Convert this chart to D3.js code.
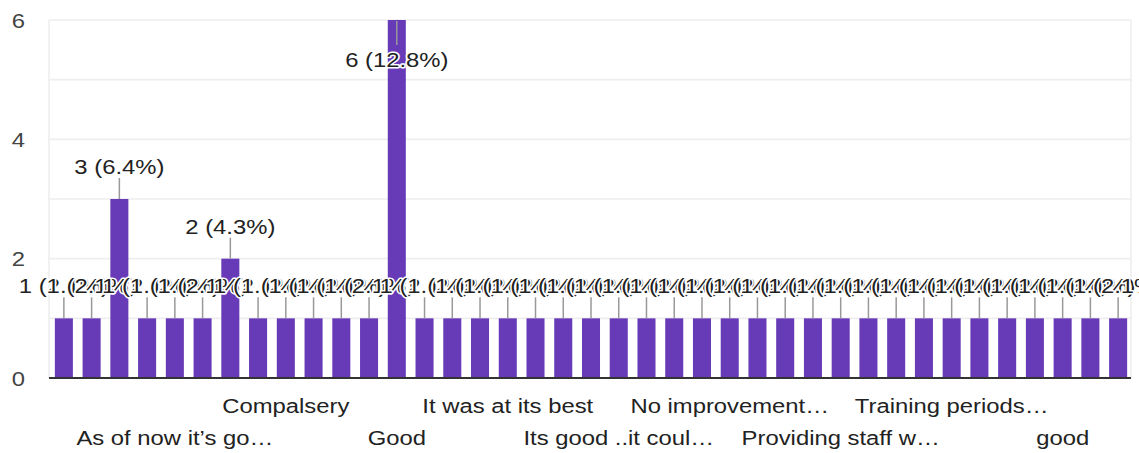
<!DOCTYPE html>
<html>
<head>
<meta charset="utf-8">
<script src="https://cdn.jsdelivr.net/npm/d3@7"></script>
<style>
  html, body { margin: 0; padding: 0; background: #fff; }
  svg { display: block; }
  text { font-family: "Liberation Sans", Arial, sans-serif; }
</style>
</head>
<body>
<svg id="chart" width="1139" height="453"></svg>
<script>
// ---- data ----
// Category labels: only those visible on the x axis are known; the rest are not shown in the reference.
const categories = [
  "", "", "", "", "As of now it’s go…", "", "", "",
  "Compalsery", "", "", "", "Good", "", "", "",
  "It was at its best", "", "", "", "Its good ..it coul…", "", "", "",
  "No improvement…", "", "", "", "Providing staff w…", "", "", "",
  "Training periods…", "", "", "", "good", "", ""
];
const values = [
  1, 1, 3, 1, 1, 1, 2, 1, 1, 1, 1, 1, 6, 1, 1, 1,
  1, 1, 1, 1, 1, 1, 1, 1, 1, 1, 1, 1, 1, 1, 1, 1,
  1, 1, 1, 1, 1, 1, 1
];
const yTicks = [0, 2, 4, 6];
const yMinorTicks = [1, 3, 5];
const shownLabelEvery = 4;

// ---- setup ----
const plotL = 49, plotR = 1131, plotT = 20, plotB = 378;
const FS = 21, SX = 1.135; // font size and horizontal stretch of the reference
const total = d3.sum(values);
const idx = d3.range(values.length);

const svg = d3.select("#chart");
const x = d3.scaleBand().domain(idx).range([50, 1132]).paddingInner(0.35).paddingOuter(0.175);
const y = d3.scaleLinear().domain([0, 6]).range([plotB, plotT]);

function stretchedText(g, tx, ty) {
  return g.attr("transform", `translate(${tx},${ty}) scale(${SX},1)`);
}

// gridlines
svg.append("g").selectAll("line")
  .data(yMinorTicks.concat(yTicks.filter(d => d !== 0)))
  .join("line")
  .attr("x1", plotL).attr("x2", plotR)
  .attr("y1", d => y(d)).attr("y2", d => y(d))
  .attr("stroke", "#eeeeee").attr("stroke-width", 1.6);
svg.append("line").attr("x1", plotL).attr("x2", plotL).attr("y1", plotT).attr("y2", plotB)
  .attr("stroke", "#eeeeee").attr("stroke-width", 1.6);
svg.append("line").attr("x1", plotR).attr("x2", plotR).attr("y1", plotT).attr("y2", plotB)
  .attr("stroke", "#eeeeee").attr("stroke-width", 1.6);

// y axis labels
svg.append("g").selectAll("text").data(yTicks).join("text")
  .each(function(d) { stretchedText(d3.select(this), 25, y(d) + 7.5); })
  .attr("text-anchor", "end")
  .attr("font-size", FS).attr("fill", "#444")
  .text(d => d);

// bars
svg.append("g").selectAll("rect").data(idx).join("rect")
  .attr("x", i => x(i)).attr("width", x.bandwidth())
  .attr("y", i => y(values[i])).attr("height", i => plotB - y(values[i]))
  .attr("fill", "#673ab7");

// baseline
svg.append("line").attr("x1", plotL).attr("x2", plotR).attr("y1", plotB).attr("y2", plotB)
  .attr("stroke", "#333").attr("stroke-width", 2);

// annotations: leader line + label
const stem = 21;
function annoPos(i) {
  const bt = y(values[i]);
  const above = bt - stem - 4 - 16 > 0;
  if (above) return { y1: bt, y2: bt - stem, base: bt - stem - 4 };
  return { y1: bt + 1, y2: bt + 25, base: bt + 47 };
}
const cx = i => x(i) + x.bandwidth() / 2;
svg.append("g").selectAll("line").data(idx).join("line")
  .attr("x1", cx).attr("x2", cx)
  .attr("y1", i => annoPos(i).y1).attr("y2", i => annoPos(i).y2)
  .attr("stroke", "#999").attr("stroke-width", 1.5);

const labelText = i => `${values[i]} (${(values[i] / total * 100).toFixed(1)}%)`;
const ag = svg.append("g");
idx.forEach(i => {
  const p = annoPos(i);
  const t = ag.append("text")
    .attr("text-anchor", "middle")
    .attr("font-size", FS)
    .attr("fill", "#222")
    .attr("stroke", "#fff").attr("stroke-width", 3).attr("paint-order", "stroke")
    .attr("stroke-linejoin", "round")
    .text(labelText(i));
  stretchedText(t, cx(i), p.base);
});

// x axis category labels (every 4th, staggered on two rows)
const shown = idx.filter(i => i > 0 && i % shownLabelEvery === 0);
svg.append("g").selectAll("text").data(shown).join("text")
  .each(function(i) {
    const row = (i / shownLabelEvery) % 2 === 1 ? 445 : 413;
    stretchedText(d3.select(this), cx(i), row);
  })
  .attr("text-anchor", "middle")
  .attr("font-size", FS).attr("fill", "#222")
  .text(i => categories[i]);
</script>
</body>
</html>
